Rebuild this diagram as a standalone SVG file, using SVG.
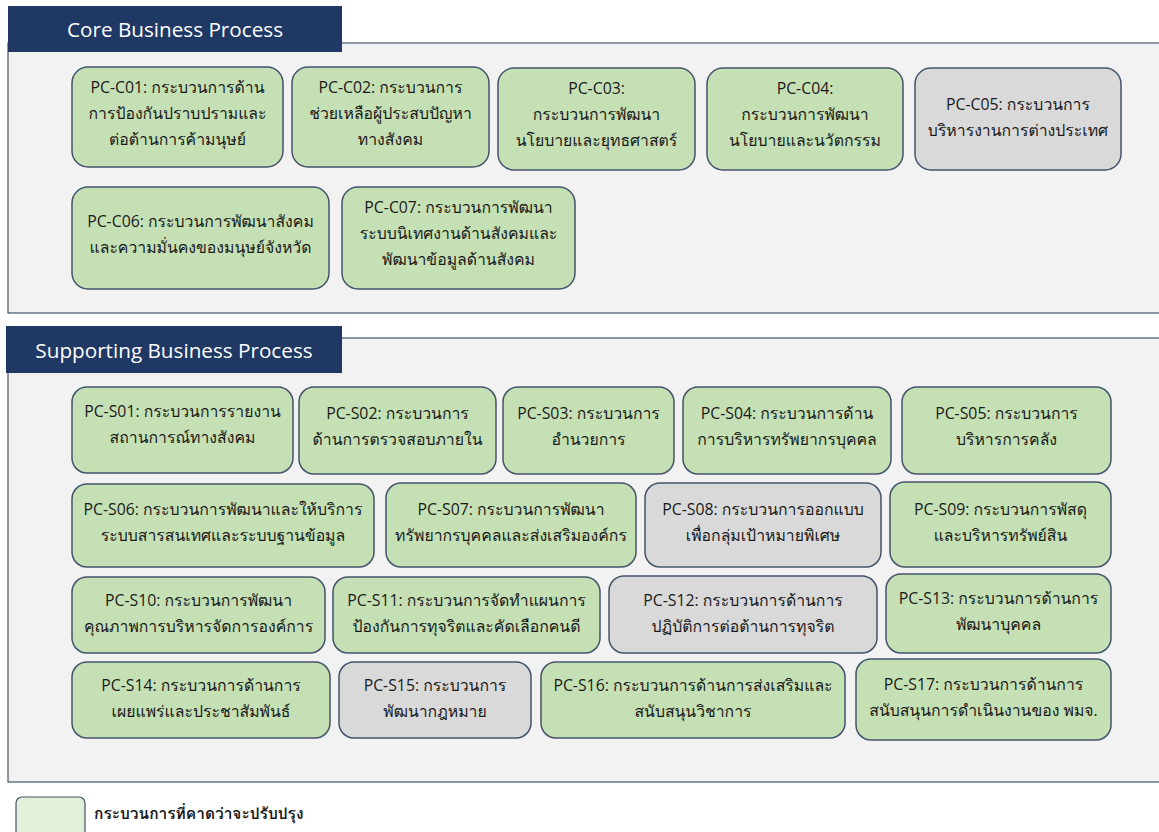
<svg xmlns="http://www.w3.org/2000/svg" width="1159" height="832" viewBox="0 0 1159 832">
  <style>
    .panel { fill: #f2f2f2; stroke: #44546a; stroke-width: 1.2; }
    .hdr { fill: #1f3864; }
    .hdr-t { fill: #ffffff; font-family: "Open Sans", "Noto Sans", sans-serif; font-size: 20.7px; text-anchor: middle; }
    .box { stroke: #44546a; stroke-width: 1.5; }
    .g { fill: #c5e0b4; }
    .n { fill: #d9d9d9; }
    .t { fill: #1a1a1a; font-family: "Open Sans", Tahoma, Loma, Garuda, "Noto Sans Thai Looped", "Noto Sans Thai", sans-serif; font-size: 15.8px; text-anchor: middle; }
    .leg { fill: #e2f0d9; stroke: #44546a; stroke-width: 1.2; }
    .leg-t { fill: #1a1a1a; font-family: "Open Sans", Tahoma, Loma, Garuda, "Noto Sans Thai Looped", "Noto Sans Thai", sans-serif; font-size: 15.5px; font-weight: bold; }
  </style>

  <!-- Core business process panel -->
  <g id="core-panel">
    <rect class="panel" x="8" y="43" width="1160" height="270"/>
    <rect class="hdr" x="8" y="6" width="334" height="46"/>
    <text class="hdr-t" x="175" y="37">Core Business Process</text>
  </g>

  <!-- Supporting business process panel -->
  <g id="support-panel">
    <rect class="panel" x="8" y="338" width="1160" height="444"/>
    <rect class="hdr" x="6" y="326" width="336" height="47"/>
    <text class="hdr-t" x="174" y="358">Supporting Business Process</text>
  </g>

  <!-- Core processes -->
  <g id="pc-c01">
    <rect class="box g" x="72" y="67" width="211" height="100" rx="16"/>
    <text class="t" x="177.5" y="93">PC-C01: กระบวนการด้าน</text>
    <text class="t" x="177.5" y="119">การป้องกันปราบปรามและ</text>
    <text class="t" x="177.5" y="145">ต่อต้านการค้ามนุษย์</text>
  </g>
  <g id="pc-c02">
    <rect class="box g" x="292" y="67" width="197" height="100" rx="16"/>
    <text class="t" x="390.5" y="93">PC-C02: กระบวนการ</text>
    <text class="t" x="390.5" y="119">ช่วยเหลือผู้ประสบปัญหา</text>
    <text class="t" x="390.5" y="145">ทางสังคม</text>
  </g>
  <g id="pc-c03">
    <rect class="box g" x="498" y="68" width="197" height="102" rx="16"/>
    <text class="t" x="596.5" y="94">PC-C03:</text>
    <text class="t" x="596.5" y="120">กระบวนการพัฒนา</text>
    <text class="t" x="596.5" y="146">นโยบายและยุทธศาสตร์</text>
  </g>
  <g id="pc-c04">
    <rect class="box g" x="707" y="68" width="196" height="102" rx="16"/>
    <text class="t" x="805" y="94">PC-C04:</text>
    <text class="t" x="805" y="120">กระบวนการพัฒนา</text>
    <text class="t" x="805" y="146">นโยบายและนวัตกรรม</text>
  </g>
  <g id="pc-c05">
    <rect class="box n" x="915" y="68" width="206" height="102" rx="16"/>
    <text class="t" x="1018" y="110">PC-C05: กระบวนการ</text>
    <text class="t" x="1018" y="136">บริหารงานการต่างประเทศ</text>
  </g>
  <g id="pc-c06">
    <rect class="box g" x="72" y="187" width="257" height="102" rx="16"/>
    <text class="t" x="200.5" y="227">PC-C06: กระบวนการพัฒนาสังคม</text>
    <text class="t" x="200.5" y="253">และความมั่นคงของมนุษย์จังหวัด</text>
  </g>
  <g id="pc-c07">
    <rect class="box g" x="342" y="187" width="233" height="102" rx="16"/>
    <text class="t" x="458.5" y="213">PC-C07: กระบวนการพัฒนา</text>
    <text class="t" x="458.5" y="239">ระบบนิเทศงานด้านสังคมและ</text>
    <text class="t" x="458.5" y="265">พัฒนาข้อมูลด้านสังคม</text>
  </g>

  <!-- Supporting processes, row 1 -->
  <g id="pc-s01">
    <rect class="box g" x="72" y="387" width="221" height="86" rx="15"/>
    <text class="t" x="182.5" y="417">PC-S01: กระบวนการรายงาน</text>
    <text class="t" x="182.5" y="443">สถานการณ์ทางสังคม</text>
  </g>
  <g id="pc-s02">
    <rect class="box g" x="299" y="387" width="197" height="87" rx="15"/>
    <text class="t" x="397.5" y="419">PC-S02: กระบวนการ</text>
    <text class="t" x="397.5" y="445">ด้านการตรวจสอบภายใน</text>
  </g>
  <g id="pc-s03">
    <rect class="box g" x="503" y="387" width="171" height="87" rx="15"/>
    <text class="t" x="588.5" y="419">PC-S03: กระบวนการ</text>
    <text class="t" x="588.5" y="445">อำนวยการ</text>
  </g>
  <g id="pc-s04">
    <rect class="box g" x="683" y="387" width="208" height="87" rx="15"/>
    <text class="t" x="787" y="419">PC-S04: กระบวนการด้าน</text>
    <text class="t" x="787" y="445">การบริหารทรัพยากรบุคคล</text>
  </g>
  <g id="pc-s05">
    <rect class="box g" x="902" y="387" width="209" height="87" rx="15"/>
    <text class="t" x="1006.5" y="419">PC-S05: กระบวนการ</text>
    <text class="t" x="1006.5" y="445">บริหารการคลัง</text>
  </g>

  <!-- Supporting processes, row 2 -->
  <g id="pc-s06">
    <rect class="box g" x="72" y="484" width="302" height="83" rx="15"/>
    <text class="t" x="223" y="515">PC-S06: กระบวนการพัฒนาและให้บริการ</text>
    <text class="t" x="223" y="541">ระบบสารสนเทศและระบบฐานข้อมูล</text>
  </g>
  <g id="pc-s07">
    <rect class="box g" x="386" y="483" width="250" height="84" rx="15"/>
    <text class="t" x="511" y="515">PC-S07: กระบวนการพัฒนา</text>
    <text class="t" x="511" y="541">ทรัพยากรบุคคลและส่งเสริมองค์กร</text>
  </g>
  <g id="pc-s08">
    <rect class="box n" x="645" y="483" width="236" height="84" rx="15"/>
    <text class="t" x="763" y="515">PC-S08: กระบวนการออกแบบ</text>
    <text class="t" x="763" y="541">เพื่อกลุ่มเป้าหมายพิเศษ</text>
  </g>
  <g id="pc-s09">
    <rect class="box g" x="890" y="482" width="221" height="85" rx="15"/>
    <text class="t" x="1000.5" y="515">PC-S09: กระบวนการพัสดุ</text>
    <text class="t" x="1000.5" y="541">และบริหารทรัพย์สิน</text>
  </g>

  <!-- Supporting processes, row 3 -->
  <g id="pc-s10">
    <rect class="box g" x="72" y="577" width="253" height="76" rx="15"/>
    <text class="t" x="198.5" y="606">PC-S10: กระบวนการพัฒนา</text>
    <text class="t" x="198.5" y="632">คุณภาพการบริหารจัดการองค์การ</text>
  </g>
  <g id="pc-s11">
    <rect class="box g" x="333" y="577" width="267" height="76" rx="15"/>
    <text class="t" x="466.5" y="606">PC-S11: กระบวนการจัดทำแผนการ</text>
    <text class="t" x="466.5" y="632">ป้องกันการทุจริตและคัดเลือกคนดี</text>
  </g>
  <g id="pc-s12">
    <rect class="box n" x="609" y="576" width="268" height="77" rx="15"/>
    <text class="t" x="743" y="606">PC-S12: กระบวนการด้านการ</text>
    <text class="t" x="743" y="632">ปฏิบัติการต่อต้านการทุจริต</text>
  </g>
  <g id="pc-s13">
    <rect class="box g" x="886" y="574" width="225" height="79" rx="15"/>
    <text class="t" x="998.5" y="604">PC-S13: กระบวนการด้านการ</text>
    <text class="t" x="998.5" y="630">พัฒนาบุคคล</text>
  </g>

  <!-- Supporting processes, row 4 -->
  <g id="pc-s14">
    <rect class="box g" x="72" y="662" width="258" height="76" rx="15"/>
    <text class="t" x="201" y="691">PC-S14: กระบวนการด้านการ</text>
    <text class="t" x="201" y="717">เผยแพร่และประชาสัมพันธ์</text>
  </g>
  <g id="pc-s15">
    <rect class="box n" x="339" y="662" width="192" height="76" rx="15"/>
    <text class="t" x="435" y="691">PC-S15: กระบวนการ</text>
    <text class="t" x="435" y="717">พัฒนากฎหมาย</text>
  </g>
  <g id="pc-s16">
    <rect class="box g" x="541" y="662" width="304" height="76" rx="15"/>
    <text class="t" x="693" y="691">PC-S16: กระบวนการด้านการส่งเสริมและ</text>
    <text class="t" x="693" y="717">สนับสนุนวิชาการ</text>
  </g>
  <g id="pc-s17">
    <rect class="box g" x="856" y="659" width="255" height="81" rx="15"/>
    <text class="t" x="983.5" y="690">PC-S17: กระบวนการด้านการ</text>
    <text class="t" x="983.5" y="716">สนับสนุนการดำเนินงานของ พมจ.</text>
  </g>

  <!-- Connectors (none in this chart) -->
  <g id="connectors"/>

  <!-- Legend -->
  <g id="legend">
    <rect class="leg" x="16" y="797" width="69" height="50" rx="6"/>
    <text class="leg-t" x="94" y="819">กระบวนการที่คาดว่าจะปรับปรุง</text>
  </g>
</svg>
